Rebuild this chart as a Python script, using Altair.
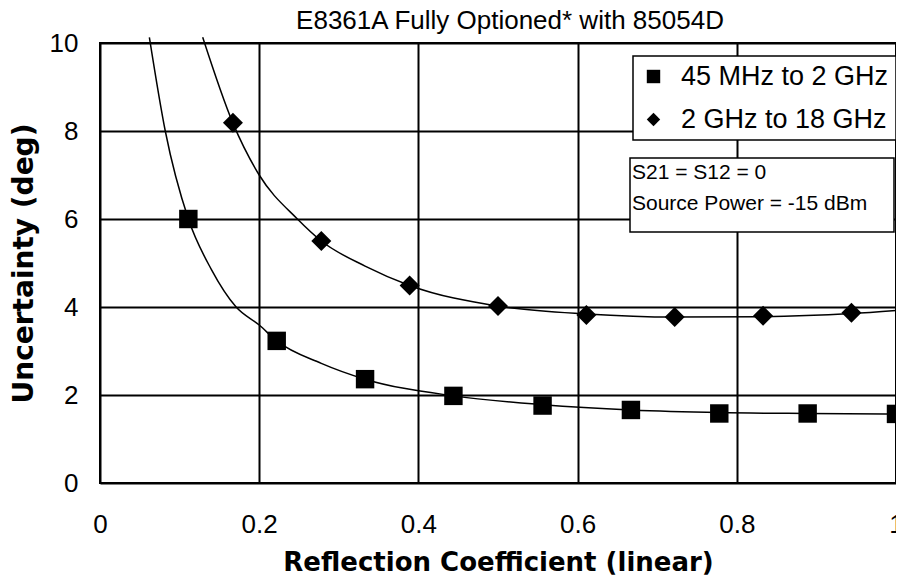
import altair as alt
import pandas as pd

# Measured markers
refl_sq = [0.111, 0.222, 0.333, 0.444, 0.556, 0.667, 0.778, 0.889, 1.0]
unc_sq = [6.0, 3.23, 2.36, 1.98, 1.76, 1.66, 1.58, 1.58, 1.57]
refl_di = [0.167, 0.278, 0.389, 0.5, 0.611, 0.722, 0.833, 0.944]
unc_di = [8.19, 5.5, 4.49, 4.02, 3.82, 3.77, 3.80, 3.87]

# Trend curves
curve_sq_x = [0.062, 0.082, 0.111, 0.140, 0.171, 0.2, 0.222, 0.278, 0.333, 0.444, 0.556, 0.667, 0.778, 0.889, 1.0]
curve_sq_y = [10.13, 8.0, 6.0, 4.85, 4.0, 3.59, 3.23, 2.72, 2.36, 1.98, 1.78, 1.66, 1.60, 1.58, 1.57]
curve_di_x = [0.129, 0.1667, 0.2, 0.248, 0.278, 0.333, 0.389, 0.5, 0.611, 0.722, 0.833, 0.944, 1.0]
curve_di_y = [10.13, 8.19, 7.0, 6.0, 5.5, 4.93, 4.49, 4.02, 3.84, 3.77, 3.78, 3.85, 3.92]

series_names = ["45 MHz to 2 GHz", "2 GHz to 18 GHz"]
x_ticks = [0, 0.2, 0.4, 0.6, 0.8, 1]
y_ticks = [0, 2, 4, 6, 8, 10]
title_text = "E8361A Fully Optioned* with 85054D"
note_lines = ["S21 = S12 = 0", "Source Power = -15 dBm"]

sq_df = pd.DataFrame({"x": refl_sq, "y": unc_sq, "series": [series_names[0]] * len(refl_sq)})
di_df = pd.DataFrame({"x": refl_di, "y": unc_di, "series": [series_names[1]] * len(refl_di)})
curves = pd.DataFrame({
    "x": curve_sq_x + curve_di_x,
    "y": curve_sq_y + curve_di_y,
    "series": [series_names[0]] * len(curve_sq_x) + [series_names[1]] * len(curve_di_x),
})

FONT = "Liberation Sans, Arial, sans-serif"
BOLD = "DejaVu Sans, Liberation Sans, sans-serif"

xs = alt.Scale(domain=[0, 1], nice=False)
ys = alt.Scale(domain=[0, 10], nice=False)
shape_scale = alt.Scale(domain=series_names, range=["square", "diamond"])

xax = alt.Axis(values=x_ticks, format="~g", title="Reflection Coefficient (linear)",
               grid=True, gridColor="black", gridWidth=2, gridOpacity=1,
               domain=False, ticks=False, labelFont=FONT, labelFontSize=26,
               labelColor="black", labelPadding=28, titleFont=BOLD, titleFontSize=26,
               titleFontWeight="bold", titleColor="black", titlePadding=12, labelFlush=False)
yax = alt.Axis(values=y_ticks, format="d", title="Uncertainty (deg)",
               grid=True, gridColor="black", gridWidth=2, gridOpacity=1,
               domain=False, ticks=False, labelFont=FONT, labelFontSize=26,
               labelColor="black", labelPadding=22, titleFont=BOLD, titleFontSize=28,
               titleFontWeight="bold", titleColor="black", titlePadding=11, labelFlush=False)

legend = alt.Legend(orient="none", legendX=533, legendY=13, title=None,
                    fillColor="white", strokeColor="black", padding=7,
                    labelFont=FONT, labelLimit=400,
                    labelFontSize=27, labelColor="black", labelOffset=14,
                    rowPadding=15, symbolSize=180, symbolFillColor="black",
                    symbolStrokeColor="black", symbolStrokeWidth=0)

lines = alt.Chart(curves).mark_line(color="black", strokeWidth=1.5, interpolate="monotone", clip=False).encode(
    x=alt.X("x:Q", scale=xs, axis=xax),
    y=alt.Y("y:Q", scale=ys, axis=yax),
    detail="series:N",
)

squares = alt.Chart(sq_df).mark_point(filled=True, color="black", opacity=1, size=340).encode(
    x=alt.X("x:Q", scale=xs),
    y=alt.Y("y:Q", scale=ys),
    shape=alt.Shape("series:N", scale=shape_scale, legend=legend),
)
diamonds = alt.Chart(di_df).mark_point(filled=True, color="black", opacity=1, size=400).encode(
    x=alt.X("x:Q", scale=xs),
    y=alt.Y("y:Q", scale=ys),
    shape=alt.Shape("series:N", scale=shape_scale, legend=legend),
)

box = alt.Chart(pd.DataFrame({"t": ["box"]})).mark_rect(fill="white", stroke="black", strokeWidth=1.5).encode(
    x=alt.value(530), x2=alt.value(794), y=alt.value(115), y2=alt.value(189))
note1 = alt.Chart(pd.DataFrame({"t": [note_lines[0]]})).mark_text(
    align="left", baseline="middle", font=FONT, fontSize=21, color="black").encode(
    x=alt.value(532), y=alt.value(130), text="t:N")
note2 = alt.Chart(pd.DataFrame({"t": [note_lines[1]]})).mark_text(
    align="left", baseline="middle", font=FONT, fontSize=21, color="black").encode(
    x=alt.value(532), y=alt.value(161), text="t:N")
title = alt.Chart(pd.DataFrame({"t": [title_text]})).mark_text(
    align="center", baseline="alphabetic", font=FONT, fontSize=26, color="black").encode(
    x=alt.value(410), y=alt.value(-14), text="t:N")

chart = alt.layer(lines, squares, diamonds, box, note1, note2, title).properties(
    width=796, height=440,
    padding={"left": 92, "top": 35, "right": 0, "bottom": 92},
    autosize=alt.AutoSizeParams(type="none"),
).configure_view(stroke="black", strokeWidth=2).configure_legend(strokeWidth=1.5)

chart.save("out.html", embed_options={"renderer": "svg", "actions": False})
